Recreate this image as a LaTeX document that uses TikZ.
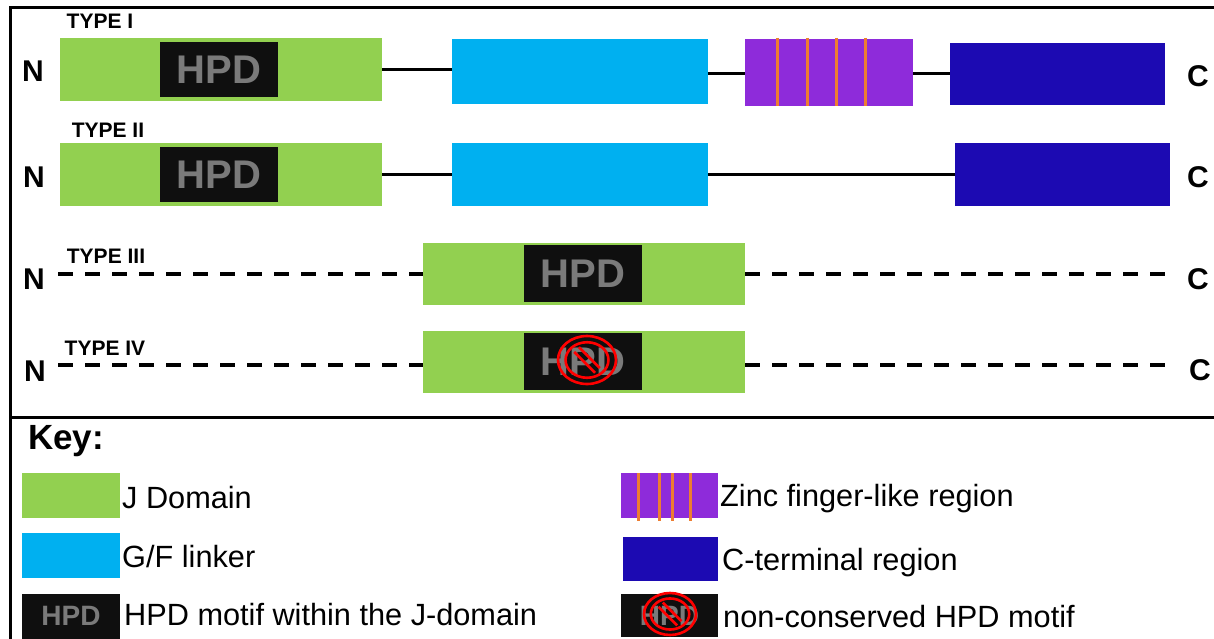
\documentclass[tikz,border=0pt]{standalone}
\usepackage{fontspec}
\setmainfont{Liberation Sans}
\definecolor{jgreen}{HTML}{92D050}
\definecolor{gfblue}{HTML}{00B0F0}
\definecolor{zfpurple}{HTML}{8E2BDA}
\definecolor{ctblue}{HTML}{1C0AB2}
\definecolor{zforange}{HTML}{ED7D31}
\definecolor{motifbg}{HTML}{0F0F0F}
\definecolor{motiftxt}{HTML}{7A7A7A}
\definecolor{nored}{HTML}{FF0000}
\tikzset{
  dom/.style={rectangle, inner sep=0pt, draw=none},
  jdom/.style={dom, fill=jgreen, minimum width=322, minimum height=63},
  gflink/.style={dom, fill=gfblue, minimum width=256, minimum height=65},
  zfreg/.style={dom, fill=zfpurple, minimum width=168, minimum height=67},
  ctreg/.style={dom, fill=ctblue, minimum width=215, minimum height=62},
  hpdbox/.style={dom, fill=motifbg, text=motiftxt, font=\fontsize{40}{40}\selectfont\bfseries,
                 minimum width=118, minimum height=55},
  keyhpd/.style={dom, fill=motifbg, text=motiftxt, font=\fontsize{28}{28}\selectfont\bfseries,
                 minimum width=98, minimum height=45},
  term/.style={inner sep=0pt, font=\fontsize{30}{30}\selectfont\bfseries},
  typelbl/.style={inner sep=0pt, font=\fontsize{21}{21}\selectfont\bfseries},
  keytxt/.style={inner sep=0pt, anchor=west, font=\fontsize{30.7}{31}\selectfont},
  link/.style={line width=3pt},
  dlink/.style={line width=3.3pt, dash pattern=on 15pt off 12pt},
  stripe/.style={zforange, line width=3pt},
  frame/.style={line width=3pt},
  nosign/.style={nored, line width=2.6pt}
}
\newcommand{\nosignat}[4]{%
  % outer ring, inner ring and the diagonal bar of a "no" sign
  \draw[nosign] (#1) ellipse [x radius=#2, y radius=#3];
  \draw[nosign] (#1) ellipse [x radius=#2*0.74, y radius=#3*0.74];
  \draw[nosign] ($(#1)+(-#4*0.64,-#4*0.40)$) -- ($(#1)+(#4*0.40,#4*0.64)$);
  \draw[nosign] ($(#1)+(-#4*0.40,-#4*0.64)$) -- ($(#1)+(#4*0.64,#4*0.40)$);
}
\usetikzlibrary{calc}
\begin{document}
\begin{tikzpicture}[x=1pt,y=-1pt]
\useasboundingbox (0,0) rectangle (1214,639);
\fill[white] (0,0) rectangle (1214,639);

% frame
\draw[frame] (10,639) -- (10,8) -- (1214,8);
\draw[frame] (10,417) -- (1214,417);

% ---- TYPE I ----
\node[typelbl] (t1) at (100,21) {TYPE I};
\node[term] (n1) at (33,71) {N};
\node[jdom] (j1) at (221,69.5) {};
\node[hpdbox] (h1) at (219,69.5) {HPD};
\node[gflink] (g1) at (580,72) {};
\node[zfreg] (z1) at (829,72.5) {};
\node[ctreg] (c1) at (1057.5,74) {};
\node[term] (e1) at (1198,76) {C};
\foreach \sx in {777,807,836,865}
  \draw[stripe] (\sx,38) -- (\sx,106);
\draw[link] (j1.east) -- (j1.east -| g1.west);
\draw[link] ([yshift=-2pt]g1.east) -- ([yshift=-2pt]g1.east -| z1.west);
\draw[link] (z1.east |- c1.west) -- (c1.west);

% ---- TYPE II ----
\node[typelbl] (t2) at (108,130) {TYPE II};
\node[term] (n2) at (34,177) {N};
\node[jdom] (j2) at (221,174.5) {};
\node[hpdbox] (h2) at (219,174.5) {HPD};
\node[gflink, minimum height=63] (g2) at (580,174.5) {};
\node[ctreg, minimum height=63] (c2) at (1062.5,174.5) {};
\node[term] (e2) at (1198,177) {C};
\draw[link] (j2.east) -- (g2.west);
\draw[link] (g2.east) -- (c2.west);

% ---- TYPE III ----
\node[typelbl] (t3) at (106,256) {TYPE III};
\node[term] (n3) at (34,279) {N};
\coordinate (s3) at (58,274);
\coordinate (f3) at (1172,274);
\node[jdom, minimum height=62] (j3) at (584,274) {};
\node[hpdbox, minimum height=57] (h3) at (583,273.5) {HPD};
\node[term] (e3) at (1198,279) {C};
\draw[dlink] (s3) -- (j3.west);
\draw[dlink] (j3.east) -- (f3);

% ---- TYPE IV ----
\node[typelbl] (t4) at (105,348) {TYPE IV};
\node[term] (n4) at (35,371) {N};
\coordinate (s4) at (58,365);
\coordinate (f4) at (1172,365);
\node[jdom, minimum height=62] (j4) at (584,362) {};
\node[hpdbox, minimum height=57] (h4) at (583,361.5) {HPD};
\node[term] (e4) at (1200,370) {C};
\draw[dlink] (s4) -- (s4 -| j4.west);
\draw[dlink] (s4 -| j4.east) -- (f4);
\nosignat{587,360}{29}{24}{20}

% ---- key ----
\node[inner sep=0pt, font=\fontsize{35}{35}\selectfont\bfseries] (key) at (66,441) {Key:};

\node[dom, fill=jgreen, minimum width=98, minimum height=45] (kj) at (71,495.5) {};
\node[keytxt] (kjt) at (122,498) {J Domain};

\node[dom, fill=gfblue, minimum width=98, minimum height=45] (kg) at (71,555.5) {};
\node[keytxt] (kgt) at (122,557) {G/F linker};

\node[keyhpd] (kh) at (71,616) {HPD};
\node[keytxt] (kht) at (124,615) {HPD motif within the J-domain};

\node[dom, fill=zfpurple, minimum width=97, minimum height=45] (kz) at (669.5,495.5) {};
\foreach \sx in {638,659,672,690}
  \draw[stripe] (\sx,473) -- (\sx,521);
\node[keytxt] (kzt) at (720,499) {Zinc finger-like region};

\node[dom, fill=ctblue, minimum width=95, minimum height=44] (kc) at (670.5,559) {};
\node[keytxt] (kct) at (722,563) {C-terminal region};

\node[keyhpd, minimum width=97, minimum height=43] (kn) at (669.5,615.5) {HPD};
\nosignat{670,614}{26}{21}{18}
\node[keytxt] (knt) at (723,617) {non-conserved HPD motif};
\end{tikzpicture}
\end{document}
